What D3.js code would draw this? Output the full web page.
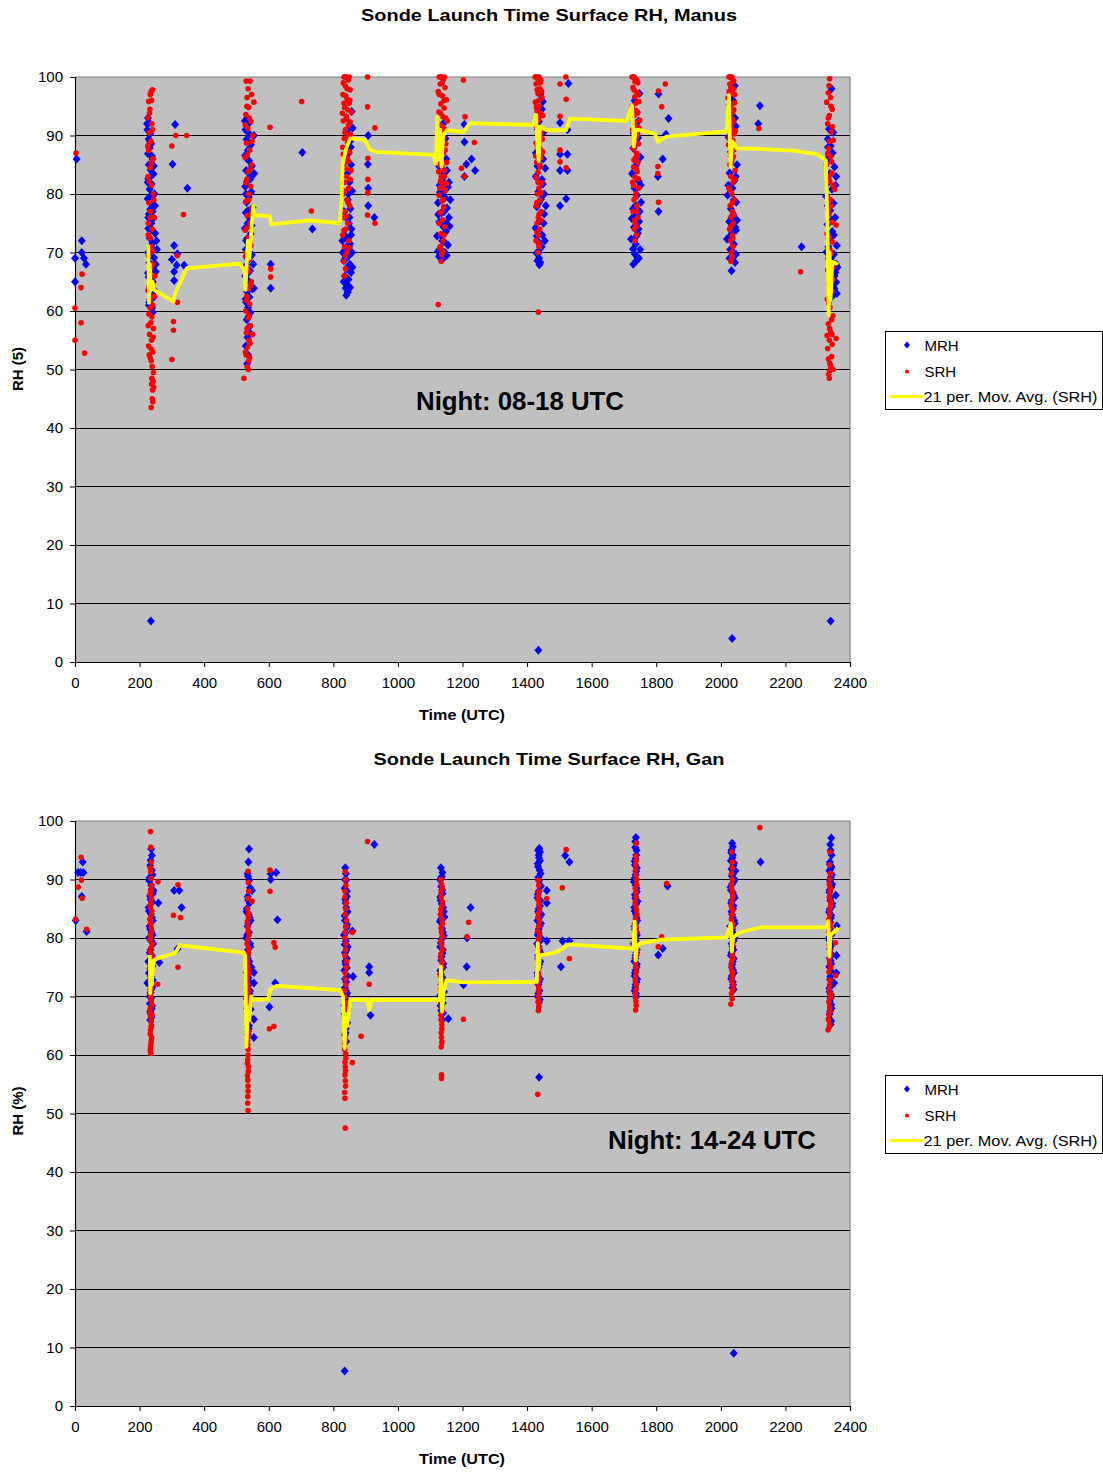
<!DOCTYPE html>
<html>
<head>
<meta charset="utf-8">
<script src="https://cdn.jsdelivr.net/npm/d3@7"></script>
<style>
  html, body { margin: 0; padding: 0; background: #fff; }
  svg { display: block; font-family: "Liberation Sans", Arial, sans-serif; }
</style>
</head>
<body>
<svg id="chart" width="1103" height="1472"></svg>
<script>
// ---------------- DATA ----------------
const xTicks = [0, 200, 400, 600, 800, 1000, 1200, 1400, 1600, 1800, 2000, 2200, 2400];
const yTicks = [0, 10, 20, 30, 40, 50, 60, 70, 80, 90, 100];
const seriesNames = ["MRH", "SRH", "21 per. Mov. Avg. (SRH)"];

// Manus: [time (HHMM UTC), RH]
const manusMRH = [
  [5,86],[0,69],[21,72],[21,70],[28,69],[34,68],[0,65],
  [226,93],[230,92.2],[224,91],[233,90.3],[228,89.4],[236,88.6],[231,87.8],[226,86.9],[240,86],[229,85],[234,84.1],[243,83.4],[227,82.6],[237,81.7],[231,80.8],[246,80],[225,79.2],[239,78.3],[233,77.4],[229,76.6],[242,75.8],[236,75],[227,74.1],[248,73.3],[231,72.5],[240,71.6],[234,70.8],[226,70],[245,69.1],[230,68.3],[237,67.4],[250,66.7],[228,65.8],[241,65],[233,64.1],[236,63.2],[244,62.4],[230,61.5],[239,60.6],[235,7],
  [223,92],[232,89],[238,86.5],[244,84.8],[225,82],[235,79.7],[248,78],[227,76],[239,73.8],[252,72],[231,69.5],[243,67.9],[226,66.5],[237,64.6],[246,63.5],[233,62],[229,61],[241,59.8],[236,71],[229,88],[234,83],[240,77],[254,70.5],[250,68],
  [310,91.9],[302,85.1],[348,81],[307,71.2],[317,69.8],[300,68.8],[315,67.8],[338,67.8],[307,66.7],[307,65.2],
  [533,93],[537,92],[528,91],[541,90.2],[531,89.3],[545,88.4],[535,87.5],[527,86.6],[539,85.7],[548,84.8],[530,84],[543,83.1],[534,82.2],[527,81.3],[546,80.4],[538,79.5],[531,78.6],[550,77.7],[529,76.8],[541,75.9],[535,75],[526,74.1],[544,73.2],[532,72.3],[539,71.4],[529,70.5],[548,69.6],[536,68.7],[531,67.8],[542,66.9],[527,66],[538,65.1],[545,64.2],[533,63.3],[540,62.4],[530,61.5],[536,60.6],[543,59.7],[532,58.5],[538,57.2],[534,55.5],[533,51],
  [526,92.5],[540,88.8],[533,86],[544,82.6],[529,80],[536,77.2],[547,74.6],[530,72],[541,69.2],[534,66.4],[549,63.8],[528,62],[537,59],[541,56.3],[529,54],[536,52.5],[552,68],[555,83.5],[554,63.9],
  [554,90],[606,68],[606,63.9],[704,87.1],[735,74],
  [857,94.1],[860,91.3],[852,89],[848,87],[855,85],[843,83.5],[850,82],[858,80.5],[845,79],[853,77.5],[840,76],[848,75],[856,74],[835,73],[844,72.3],[852,71.5],[839,70.8],[858,70],[846,69.3],[833,68.6],[851,68],[841,67.3],[855,66.6],[836,66],[847,65.4],[843,64.5],[838,63.9],[840,62.7],[849,71],[829,70],
  [845,91],[854,88],[838,85.8],[847,80],[833,77],[855,73],[842,71],[837,69],[848,67],[832,65],[852,64],[845,63.2],[859,67.5],[828,72],[850,76],
  [908,90],[907,85.1],[908,81],[908,78],[927,76],
  [1140,92],[1147,89.5],[1133,87.2],[1150,86],[1127,84.8],[1143,83.6],[1137,82.4],[1155,81.2],[1130,80.3],[1146,79.4],[1124,78.5],[1152,77.6],[1135,76.8],[1158,76],[1128,75.2],[1141,74.4],[1149,73.6],[1121,72.8],[1137,72],[1155,71.3],[1131,70.6],[1146,70],[1127,69.3],[1139,68.9],[1160,74.5],[1162,79],
  [1145,90.8],[1131,88],[1152,84],[1139,80],[1125,76.5],[1150,75],[1133,73],[1144,71.8],[1124,70.2],[1151,69.5],[1134,69.5],[1158,82],[1143,77],[1129,81.5],
  [1206,91.9],[1206,88.9],[1228,86],[1212,85.1],[1239,84],[1206,83],
  [1441,97],[1446,94.5],[1437,92.4],[1452,90.6],[1431,88.8],[1444,87.3],[1438,85.8],[1456,84.4],[1427,83],[1449,81.7],[1435,80.4],[1443,79.1],[1430,77.8],[1453,76.6],[1439,75.4],[1426,74.2],[1447,73],[1434,71.9],[1442,70.8],[1429,69.9],[1437,69],[1432,68.6],[1438,67.9],[1435,2],[1458,78],[1455,72],
  [1449,95.8],[1433,91],[1440,89.5],[1450,86],[1432,84.8],[1446,82.5],[1437,78.5],[1451,75],[1430,72.8],[1445,71],[1436,70],[1441,68.3],[1427,87],[1453,80],
  [1528,98.9],[1502,92.2],[1525,91],[1502,86.8],[1525,86.8],[1502,84],[1525,84],[1502,78],[1521,79.2],
  [1748,97.2],[1740,94],[1735,91.5],[1744,89.6],[1729,87.8],[1751,86.3],[1737,84.9],[1725,83.5],[1746,82.2],[1733,81],[1741,79.8],[1753,78.6],[1728,77.5],[1738,76.4],[1747,75.3],[1731,74.3],[1743,73.3],[1722,72.3],[1736,71.4],[1750,70.5],[1733,69.8],[1741,69.2],[1729,68],
  [1733,96],[1745,92.5],[1730,90.4],[1740,85.5],[1752,81.5],[1736,78],[1724,75.8],[1745,74],[1739,72.8],[1728,70.6],[1746,69],[1737,68.5],[1749,77],
  [1807,97.1],[1838,92.9],[1830,90.2],[1820,86],[1805,83],[1807,77],
  [2043,98.5],[2038,96],[2030,93.7],[2046,91.6],[2024,89.7],[2040,88],[2033,86.4],[2050,85],[2027,83.6],[2043,82.3],[2036,81],[2021,79.8],[2048,78.6],[2031,77.5],[2039,76.4],[2026,75.3],[2045,74.3],[2034,73.3],[2019,72.3],[2041,71.4],[2029,70.5],[2047,69.7],[2035,68.9],[2033,66.9],[2035,4],
  [2035,97],[2027,95.3],[2044,93],[2036,90.5],[2031,87.2],[2046,83],[2023,81.5],[2040,79],[2033,76],[2047,73.8],[2029,72.8],[2038,70],[2044,68.3],[2027,69],[2050,75.5],
  [2121,95.1],[2116,92],[2250,71],
  [2343,98],[2335,91.1],[2331,89.4],[2340,88.2],[2346,87],[2328,85.8],[2352,84.6],[2337,83.5],[2357,83],[2333,82],[2344,80.8],[2326,79.6],[2349,78.4],[2339,77.2],[2354,76],[2330,74.8],[2345,73.6],[2336,72.4],[2359,71.2],[2327,70.1],[2350,69.7],[2341,69],[2357,68],[2334,67],[2352,66],[2357,64.9],[2348,64],[2359,63],[2340,7],
  [2348,90.5],[2338,86.5],[2355,81.5],[2331,78],[2343,75.5],[2350,73],[2333,71],[2346,68.3],[2355,66.6],[2339,65.5],[2352,63.8],[2344,62.5],[2361,67.5],[2332,88]
];

const manusSRH = [
  [3,87],[22,66.3],[19,64],[0,60.5],[19,58],[0,55],[30,52.8],
  [240,97.8],[236,97.5],[228,95.8],[232,94.5],[226,93],[238,92],[230,90.5],[235,89],[228,87.5],[241,86],[233,84.5],[226,83],[237,81.5],[243,80],[229,78.5],[234,77],[245,76],[227,75],[239,74],[232,72.5],[236,71],[228,69.5],[242,68],[231,66.5],[238,65],[226,63.5],[233,62],[240,61],[229,59.5],[235,58],[243,57],[231,56],[237,55],[228,54],[241,53],[233,52],[236,51.5],[238,48.5],[242,48],[244,47],[240,46.5],[239,45],[236,43.5],
  [233,97],[237,96],[231,93.8],[240,91],[226,88.3],[236,85.3],[230,82.2],[244,79],[233,76],[227,73],[241,70.2],[235,67.3],[229,64],[245,62.5],[233,60.5],[238,59],[227,57.5],[242,55.5],[236,53.5],[230,52.5],[239,50.5],[243,49.5],[237,47.5],[241,44.5],[232,62.8],[247,66],
  [312,90],[346,90],[300,88.2],[336,76.5],[317,69.5],[317,61.5],[305,58.2],[305,56.7],[300,51.7],
  [530,99.3],[542,99.3],[533,96.5],[554,95.7],[538,94.8],[529,93.6],[545,92.4],[535,91.2],[550,90],[531,88.7],[541,87.5],[527,86.3],[547,85],[536,83.8],[532,82.5],[544,81.3],[538,80],[529,78.7],[549,77.5],[534,76.3],[541,75],[527,73.8],[537,72.5],[545,71.2],[531,70],[540,68.8],[534,67.5],[528,66.3],[546,65],[537,63.8],[532,62.5],[541,61.2],[529,60],[536,58.8],[543,57.5],[531,56.3],[539,55],[534,53.8],[530,52.5],[538,51.5],[533,50.5],[523,48.5],
  [536,98],[547,97],[532,95],[540,93],[527,91.8],[548,89],[534,86.8],[542,84.2],[529,82],[538,79],[546,76.6],[533,74.2],[541,71.8],[528,69.3],[538,66.8],[544,64.4],[531,61.8],[539,59.3],[533,57],[542,54.5],[528,53],[537,50],[541,52],[550,56],
  [604,91.4],[606,67.2],[606,65.8],[702,95.8],[732,77.1],
  [833,100],[840,100],[846,99.5],[837,98.5],[852,97.8],[830,97],[843,96.2],[849,95.5],[835,94.8],[856,94],[840,93.3],[831,92.5],[847,91.8],[838,91],[853,90.2],[834,89.5],[844,88.7],[829,88],[850,87.2],[839,86.4],[846,85.6],[833,84.8],[855,84],[841,83],[836,82],[848,81],[830,80],[843,79],[851,78],[837,77],[832,76],[845,75],[839,74],[829,73],[848,72],[835,71],[842,70],[832,68.5],[838,67.2],[834,66],
  [836,100],[849,100],[831,99],[843,98],[838,96.8],[851,96],[833,95.5],[845,94.4],[828,93.8],[841,92.8],[852,92.3],[836,90.5],[848,89.8],[831,86.8],[844,86],[840,84.3],[852,82.5],[835,80.5],[846,78.5],[840,76.2],[833,73.8],[849,70.8],[837,69.5],
  [906,100],[906,94.9],[929,91.3],[907,86.1],[907,82.5],[907,80.2],[906,76.4],[929,75],
  [1128,100],[1135,100],[1141,99.6],[1131,98.8],[1146,98.2],[1125,97.5],[1138,96.8],[1150,96.1],[1133,95.4],[1143,94.7],[1127,94],[1140,93.2],[1153,92.5],[1130,91.8],[1145,91],[1136,90.2],[1124,89.4],[1148,88.6],[1134,87.8],[1141,87],[1129,86.2],[1151,85.4],[1137,84.6],[1126,83.8],[1144,83],[1132,82.2],[1139,81.4],[1147,80.6],[1128,79.8],[1136,78.8],[1142,77.8],[1131,76.8],[1138,75.6],[1145,74.4],[1133,73.2],[1140,72],[1129,70.8],[1136,69.6],[1134,68.5],[1125,61.1],
  [1131,100],[1144,100],[1137,99],[1128,97],[1143,96],[1132,93.8],[1148,93],[1138,91.5],[1126,91],[1142,89.6],[1131,88.4],[1146,87.5],[1135,86.5],[1127,85],[1143,84],[1134,83],[1150,81.8],[1130,81],[1141,79],[1135,77],[1127,75],[1143,73],[1132,71],[1138,70.2],
  [1203,99.5],[1208,93.2],[1237,88.8],[1197,84.4],[1206,83],
  [1425,100],[1431,100],[1437,100],[1443,99.5],[1428,98.8],[1440,98],[1434,97.2],[1446,96.5],[1426,95.7],[1438,95],[1431,94.2],[1449,93.4],[1435,92.6],[1427,91.8],[1442,91],[1433,90.2],[1447,89.4],[1429,88.6],[1439,87.8],[1436,87],[1444,86.2],[1430,85.4],[1441,84.6],[1434,83.7],[1427,82.8],[1445,81.9],[1437,81],[1432,80],[1440,79],[1429,78],[1443,77],[1435,76],[1431,75],[1439,74],[1434,73],[1428,72],[1437,71],[1433,70],[1435,59.8],
  [1428,100],[1434,99.3],[1441,99],[1431,97.8],[1445,97.5],[1437,96],[1429,94.8],[1442,93.8],[1436,93],[1430,91.4],[1445,90.5],[1438,89],[1433,88],[1448,87.2],[1427,86.5],[1439,85],[1434,82],[1443,80.2],[1430,78.5],[1437,76.5],[1442,75.5],[1431,73.5],[1436,71.5],
  [1520,100],[1502,98.8],[1521,96.2],[1502,93.3],[1502,87.5],[1502,85.5],[1521,84.5],
  [1725,100],[1731,100],[1737,99.6],[1743,99],[1728,98.2],[1740,97.4],[1734,96.6],[1746,95.8],[1726,95],[1738,94.2],[1732,93.4],[1749,92.6],[1735,91.8],[1727,91],[1742,90.2],[1733,89.4],[1745,88.6],[1729,87.8],[1739,87],[1736,86.2],[1743,85.4],[1730,84.6],[1741,83.8],[1734,82.9],[1727,82],[1745,81],[1737,80],[1731,79],[1740,78],[1728,77],[1743,76],[1735,75],[1732,74],[1739,73],[1734,72],
  [1728,100],[1734,99.2],[1740,99.5],[1731,97.8],[1744,97],[1737,95.5],[1729,94.4],[1742,93.8],[1735,92.2],[1746,91.3],[1730,90.6],[1739,89.8],[1734,88.2],[1742,86.6],[1731,85.8],[1738,84.3],[1744,82.6],[1730,81.5],[1736,79.5],[1741,77],[1733,75.5],[1738,74.5],
  [1828,98.8],[1807,97.6],[1817,94.9],[1805,84.7],[1805,83.5],[1807,78.6],
  [2025,100],[2031,100],[2037,99.5],[2028,98.8],[2040,98],[2034,97.2],[2022,96.4],[2043,95.6],[2030,94.8],[2036,94],[2026,93.2],[2039,92.4],[2033,91.6],[2045,90.8],[2029,90],[2037,89.2],[2024,88.4],[2041,87.6],[2032,86.8],[2035,86],[2028,85],[2044,84],[2031,83],[2038,82],[2025,81],[2034,80],[2041,79],[2029,78],[2036,77],[2032,76],[2039,75],[2027,74],[2035,73],[2030,72],[2037,71],[2033,70],[2031,68.5],[2034,69.5],
  [2028,100],[2034,100],[2040,99.3],[2031,98.3],[2037,97.8],[2026,97.5],[2043,97],[2033,95.3],[2040,94.4],[2028,93.6],[2036,92.8],[2031,91],[2041,90.3],[2026,89.6],[2035,88.8],[2030,87.2],[2039,86.4],[2033,85.5],[2042,82.5],[2029,80.5],[2036,78.5],[2040,76.5],[2031,74.5],[2037,72.5],[2033,69],
  [2118,91.2],[2247,66.7],
  [2337,99.7],[2333,97.3],[2340,96.5],[2328,95.7],[2345,94.5],[2336,93.4],[2331,92],[2342,90.6],[2348,89.2],[2334,87.8],[2339,86.4],[2327,85],[2344,83.6],[2337,82.2],[2352,80.8],[2331,79.4],[2341,78],[2335,76.6],[2357,74.7],[2329,73.2],[2346,71.8],[2338,70.4],[2332,69],[2349,67.6],[2340,66.2],[2335,64.8],[2344,63.4],[2330,62],[2338,60.6],[2347,59.2],[2333,57.8],[2340,56.4],[2357,55.3],[2336,55],[2331,53.6],[2343,52.2],[2338,51],[2348,50],[2334,49.2],[2336,48.5],
  [2335,98.5],[2341,95],[2333,93],[2346,91.5],[2337,89],[2331,86.9],[2343,85.5],[2335,83],[2348,81.5],[2339,79],[2333,77.4],[2344,75.2],[2336,72.6],[2342,69.8],[2331,67],[2347,65.4],[2337,63.8],[2334,61.3],[2343,58.5],[2337,57],[2329,55.8],[2345,54.3],[2333,51.8],[2340,50.5],[2337,49.8],[2344,56]
];

const manusMA = [
  [227,71.3],[229,61.4],[232,68],[234,63.5],[240,65],[245,63.6],[305,61.6],[310,63],[346,67.3],[511,68.1],[525,67],[528,63.6],[535,72],[540,69],[552,78.1],[555,76.4],[604,76.2],[607,74.8],[728,75.5],[821,75],[826,80],[829,85.2],[840,87.8],[852,89.5],[898,89.2],[914,87.6],[930,87.2],[1110,86.7],[1118,85.2],[1122,93.2],[1127,86],[1131,91],[1135,84.7],[1140,90],[1151,90.9],[1203,90.6],[1223,92.1],[1419,91.8],[1428,93.5],[1432,88],[1436,85.6],[1440,91.5],[1461,90.9],[1521,90.9],[1533,92.9],[1708,92.5],[1725,95.1],[1731,88.1],[1736,91],[1750,90.9],[1796,90.3],[1805,88.9],[1832,89.8],[2018,90.7],[2025,96.9],[2030,84.7],[2035,89],[2049,87.8],[2121,87.7],[2225,87.4],[2297,86.8],[2325,85.8],[2330,75],[2334,59.3],[2337,70],[2340,62],[2345,68.4],[2359,68.1],[2362,68.3]
];

// Gan
const ganMRH = [
  [24,93],[10,91.2],[18,91.2],[26,91.2],[21,87.1],[2,83],[36,81.1],
  [236,95.2],[238,94.1],[233,92.4],[240,90.8],[230,89.8],[236,89],[243,88.1],[232,87.2],[239,86.1],[228,85.2],[235,84.1],[241,83],[231,82],[237,81],[229,80],[242,79],[234,78],[238,77],[227,76],[240,75.2],[233,74.3],[236,73.4],[230,72.6],[239,71.6],[234,70.7],[237,69.8],[232,68.8],[238,67.9],[235,67],[233,66],
  [234,93.3],[238,91.6],[231,90.3],[241,87.6],[234,86.6],[229,84.6],[238,83.5],[233,81.5],[240,80.5],[236,79.5],[231,77.5],[238,76.5],[234,75.7],[229,74],[241,72.8],[236,71.2],[231,70],[239,68.4],[233,67.4],[237,66.5],
  [258,86],[261,75.8],[224,72.3],[307,88.1],[323,88.1],[330,85.2],[317,78.1],
  [539,95.2],[536,90.5],[540,89.9],[548,88.1],[535,87.1],[541,86],[532,85],[538,84],[544,83],[534,82],[539,81],[530,80],[542,79],[536,78],[533,77],[540,76],[546,75],[531,74.1],[554,74.1],[537,73.2],[543,72.3],[554,72.3],[534,71.4],[540,70.5],[532,69.6],[538,68.7],[544,67.8],[535,66.9],[554,66.1],[539,65],[536,64],[554,63],
  [537,93],[534,91],[542,88.6],[536,86.5],[531,84.5],[541,83.5],[537,82.5],[533,80.5],[543,78.5],[535,76.5],[539,74.6],[534,72.8],[542,71],[537,69],[533,68],[541,66.4],[538,64.5],[535,63.5],
  [606,91],[623,91.2],[606,90],[627,83.1],[620,72.3],[602,68.2],
  [837,92],[840,89.9],[835,88.5],[842,87.1],[838,86],[844,84.5],[836,83],[841,81.8],[859,81.2],[833,80.5],[839,79.5],[845,78.5],[836,77.5],[842,76.5],[838,75.5],[834,74.5],[844,73.5],[861,73.4],[840,72.5],[836,71.5],[843,70.5],[838,69.5],[834,68.5],[841,67.5],[837,66.5],[843,65.5],[839,64.5],[836,63.4],[840,62.3],[835,6],
  [839,91],[836,90],[842,88],[837,86.6],[840,85.2],[835,83.8],[843,82.3],[838,80.9],[835,78.9],[841,77.9],[837,76],[842,74.9],[836,73],[839,71],[844,69],[835,67],[840,66],[838,63.8],
  [927,96],[911,75.1],[911,74.1],[915,66.8],
  [1133,92],[1136,90.5],[1131,89.9],[1134,88.8],[1138,87.6],[1132,86.4],[1140,85.2],[1135,84],[1144,83.6],[1130,82.8],[1137,81.6],[1142,80.4],[1133,79.2],[1139,78],[1135,76.8],[1141,75.6],[1131,74.4],[1138,73.2],[1134,72],[1143,70.8],[1136,69.6],[1132,68.4],[1140,67.2],[1156,66.2],[1137,66],
  [1138,91.2],[1133,90.2],[1137,88.2],[1131,87],[1136,85.8],[1142,84.5],[1133,83.2],[1139,81],[1135,79.8],[1131,78.5],[1138,77.4],[1134,76.2],[1140,75],[1133,73.8],[1137,72.6],[1135,71.4],[1131,70.2],[1139,68.9],[1134,67.6],
  [1225,85.2],[1214,80],[1213,75.1],[1203,72],
  [1438,95.3],[1436,94.2],[1440,93.2],[1434,92.2],[1442,91],[1437,89.8],[1461,88.1],[1433,87.5],[1441,86.4],[1461,86],[1436,85],[1444,84],[1432,83],[1439,82],[1435,81],[1443,80],[1461,79.5],[1431,79],[1438,78],[1434,77],[1441,76],[1436,75],[1432,74],[1440,73],[1435,72],[1438,71],[1433,70],[1437,69],[1437,56.2],
  [1434,95],[1440,94.7],[1437,93.7],[1433,92.7],[1439,91.6],[1435,90.4],[1443,88.9],[1436,88],[1432,86.9],[1440,85.5],[1434,84.5],[1438,83.5],[1443,82.5],[1436,81.5],[1433,80.5],[1440,79.5],[1436,78.5],[1442,77.5],[1434,76.5],[1438,75.5],[1433,73.5],[1437,72.5],[1435,70.5],[1439,69.5],
  [1518,94.1],[1531,93],[1505,75.1],[1510,79.5],[1531,79.5],
  [1737,97.2],[1735,95.5],[1738,94.2],[1733,93.1],[1740,92],[1736,90.8],[1731,89.6],[1739,88.5],[1734,87.4],[1742,86.3],[1732,85.2],[1737,84.1],[1741,83],[1733,82],[1738,81],[1735,80],[1730,79],[1740,78],[1736,77],[1732,76],[1739,75],[1734,74],[1741,73],[1736,72],[1733,71],[1738,70],
  [1735,96.5],[1739,95],[1736,93.6],[1734,92.5],[1738,91.4],[1733,90.2],[1737,89],[1740,87.9],[1735,86.8],[1738,85.8],[1733,84.6],[1739,83.5],[1736,82.5],[1734,81.5],[1740,80.5],[1737,79.5],[1733,78.5],[1738,77.5],[1735,76.5],[1740,75.5],[1736,74.5],[1733,73.5],[1739,72.5],[1735,71.5],[1737,70.5],
  [1835,88.9],[1820,78.2],[1806,77.1],
  [2035,96.2],[2033,95],[2037,94.2],[2031,93.2],[2039,92.4],[2045,91.5],[2034,90.6],[2040,89.6],[2030,88.7],[2037,87.8],[2043,86.9],[2032,86],[2038,85],[2035,84],[2041,83],[2029,82],[2036,81],[2042,80],[2033,79],[2039,78],[2031,77],[2037,76],[2034,75],[2040,74],[2032,73],[2038,72],[2040,71.2],[2040,9],
  [2037,95.6],[2032,94.6],[2036,93.7],[2041,92.8],[2033,91.8],[2038,91],[2043,90],[2035,89.2],[2031,88.2],[2040,87.3],[2034,86.4],[2039,85.5],[2033,84.5],[2037,83.5],[2043,82.5],[2035,81.5],[2031,80.5],[2039,79.5],[2036,78.5],[2033,77.5],[2040,76.5],[2035,75.5],[2038,74.5],[2034,73.5],[2037,72.5],[2036,71.5],
  [2123,93],
  [2342,97.1],[2340,95],[2338,93],[2343,92.2],[2336,91.5],[2341,90.4],[2345,89.2],[2337,88.2],[2356,87.3],[2339,86.4],[2344,85.4],[2335,84.4],[2341,83.4],[2359,82.1],[2338,81.6],[2343,80.6],[2336,79.6],[2340,78.6],[2358,77],[2337,76.6],[2342,75.6],[2358,74],[2339,73.4],[2351,72.3],[2336,71.4],[2341,70.3],[2338,69.2],[2343,68],[2337,67],[2340,65.2],[2342,65.8],
  [2339,96],[2343,94.2],[2337,92.6],[2340,91.8],[2344,90.8],[2338,89.8],[2342,88.7],[2336,87.8],[2340,86.9],[2345,85.9],[2337,84.9],[2342,83.9],[2339,82.7],[2336,80.1],[2341,79.1],[2338,78.1],[2343,77.2],[2340,76.1],[2336,75.1],[2341,74.4],[2338,72.9],[2343,71.9],[2337,70.8],[2340,69.7],[2342,68.6],[2338,67.5],[2336,66.2]
];

const ganSRH = [
  [19,93.8],[20,89.9],[10,88.7],[22,86.8],[2,83.2],[36,81.5],
  [234,98.2],[236,93],[234,91.3],[237,89],[233,87.5],[235,86],[238,84.6],[232,83.2],[236,81.8],[234,80.4],[239,79],[233,77.6],[236,76.2],[231,74.8],[235,73.4],[238,72],[233,70.6],[236,69.2],[232,67.8],[235,66.4],[237,65],[233,63.6],[236,62.4],[234,61.3],[235,60.3],
  [235,95.5],[233,92],[236,90.2],[234,88.2],[237,86.8],[233,85.3],[236,83.9],[234,82.5],[237,81.1],[232,79.7],[235,78.3],[238,76.9],[234,75.5],[237,74.1],[233,72.7],[236,71.3],[234,69.9],[238,68.5],[233,67.1],[236,65.7],[234,64.3],[237,63],[235,61.8],[233,60.8],[236,64.8],[238,66.8],
  [257,89.6],[256,72.1],[319,89.1],[305,83.9],[327,83.5],[319,75],
  [536,91.4],[538,88],[548,86.3],[534,85],[537,83.5],[535,82],[539,80.5],[533,79],[537,77.5],[535,76],[538,74.5],[534,73],[536,71.5],[539,70],[533,68.5],[537,67],[535,65.5],[538,64],[534,62.5],[536,61],[535,59.2],[537,58],[534,56.5],[536,54.7],[535,52.9],[536,50.5],
  [537,89.5],[535,86.8],[538,84.2],[534,82.8],[537,81.2],[535,79.7],[538,78.2],[534,76.8],[536,75.3],[539,73.8],[535,72.2],[537,70.8],[534,69.3],[538,67.8],[536,66.2],[534,64.8],[537,63.2],[535,61.8],[536,60],[534,58.6],[537,57.2],[535,55.7],[536,53.8],[535,51.8],
  [604,91.6],[604,88],[616,79.2],[620,78.4],[602,64.5],[616,64.9],
  [837,91.3],[839,89],[836,87],[838,85],[841,83],[837,81],[859,81],[839,79],[836,77],[840,75],[838,73],[835,71],[839,69],[837,67],[840,65.5],[836,64],[838,62.5],[835,61],[839,59.5],[837,58],[859,58.7],[836,56.6],[838,54.7],[836,52.6],[837,47.5],
  [838,90],[836,88],[840,86],[837,84],[839,82],[836,80],[838,78],[841,76],[837,74],[839,72],[836,70],[838,68],[836,66],[839,64.8],[837,63.2],[835,62],[838,60.2],[836,58.8],[838,57.3],[837,55.6],[835,53.6],
  [906,96.5],[911,72.1],[886,63.2],
  [1133,90],[1137,88.5],[1134,87],[1136,85.5],[1132,84],[1138,82.5],[1135,81],[1133,79.5],[1137,78],[1134,76.5],[1136,75],[1132,73.5],[1138,72],[1135,70.5],[1133,69],[1137,67.5],[1134,66],[1136,64.5],[1135,63],[1134,61.4],[1135,56.6],[1135,56],
  [1135,89.2],[1134,87.8],[1137,86.2],[1133,84.8],[1136,83.2],[1134,81.8],[1137,80.2],[1135,78.8],[1133,77.2],[1137,75.8],[1134,74.2],[1136,72.8],[1133,71.2],[1137,69.8],[1135,68.2],[1133,66.8],[1136,65.2],[1134,63.8],[1136,62.2],
  [1219,82.7],[1214,80.2],[1203,66.1],
  [1435,89.9],[1437,88],[1434,86.5],[1461,86.7],[1438,85],[1433,83.5],[1436,82],[1439,80.5],[1434,79],[1437,77.5],[1435,76],[1433,74.5],[1438,73],[1436,71.5],[1434,70],[1437,68.8],[1435,67.6],[1433,53.3],
  [1436,89],[1434,87.2],[1437,85.8],[1435,84.2],[1438,82.8],[1434,81.2],[1436,79.8],[1438,78.2],[1434,76.8],[1437,75.2],[1435,73.8],[1433,72.2],[1437,70.8],[1435,69.2],[1436,68.2],
  [1521,95.1],[1509,88.6],[1531,76.5],
  [1738,96.2],[1737,92.5],[1736,91.7],[1739,90],[1735,88.5],[1738,87],[1736,85.5],[1740,84],[1735,82.5],[1738,81],[1736,79.5],[1739,78],[1735,76.5],[1737,75],[1736,73.5],[1738,72],[1735,70.5],[1737,69.2],[1736,67.7],
  [1737,94],[1738,93.2],[1736,90.8],[1739,89.2],[1737,87.8],[1735,86.2],[1739,84.8],[1736,83.2],[1738,81.8],[1735,80.2],[1737,78.8],[1739,77.2],[1736,75.8],[1738,74.2],[1735,72.8],[1737,71.2],[1736,69.8],[1738,68.5],
  [1832,89.3],[1817,80.2],[1806,78.5],
  [2034,94.7],[2036,90],[2033,88.5],[2037,87],[2032,85.5],[2035,84],[2038,82.5],[2033,81],[2036,79.5],[2034,78],[2037,76.5],[2032,75],[2035,73.5],[2038,72],[2033,70.5],[2031,68.7],
  [2035,92],[2033,89.2],[2036,87.8],[2034,86.2],[2037,84.8],[2033,83.2],[2036,81.8],[2034,80.2],[2037,78.8],[2035,77.2],[2033,75.8],[2036,74.2],[2034,72.8],[2037,71.2],[2035,69.6],[2033,91],[2036,93],
  [2121,98.9],
  [2338,94.7],[2337,90],[2339,88.5],[2336,87],[2340,85.5],[2337,84],[2339,82.5],[2335,81],[2355,79.2],[2338,78],[2336,76.5],[2340,75],[2356,73.6],[2337,72],[2339,70.5],[2335,69],[2338,67.5],[2334,66],[2332,64.3],
  [2337,92.5],[2339,91],[2336,89.2],[2338,87.8],[2340,86.2],[2337,84.8],[2335,83.2],[2339,81.8],[2337,80.2],[2336,78.8],[2339,77.2],[2337,75.8],[2335,74.2],[2338,72.8],[2336,71.2],[2339,69.8],[2337,68.2],[2335,66.8],[2338,65.2],[2336,64.8]
];

const ganMA = [
  [232,77.1],[233,70.5],[236,74],[238,72],[243,76.2],[260,76.6],[310,77.4],[325,78.8],[335,78.7],[521,77.5],[527,77],[531,61.4],[535,68],[540,66],[545,70],[552,69.4],[599,69.5],[605,71.2],[624,71.8],[821,71.1],[830,70],[835,61.1],[838,67],[843,65],[852,69.4],[905,69.4],[911,67.7],[918,69.4],[1130,69.4],[1133,75.1],[1137,67.4],[1142,71],[1151,72.8],[1203,72.4],[1430,72.5],[1433,79.1],[1436,74.7],[1440,77],[1445,77.1],[1481,77.4],[1512,78.2],[1528,78.9],[1729,78.2],[1733,82.8],[1736,76.2],[1740,78.5],[1750,79.1],[1812,79.7],[2018,80.1],[2031,82.5],[2034,77.7],[2038,80],[2055,80.9],[2121,81.8],[2328,81.8],[2333,82.9],[2336,76.8],[2340,80.5],[2359,81.4],[2363,81.8]
];

// ---------------- DRAW ----------------
const svg = d3.select("#chart");
const FONT = '"Liberation Sans", Arial, sans-serif';
const diamond = (w, h) => `M0,${-h/2}L${w/2},0L0,${h/2}L${-w/2},0Z`;

function drawChart(cfg) {
  const g = svg.append("g");
  const x = d3.scaleLinear().domain([0, 2400]).range([75, 850]);
  const y = d3.scaleLinear().domain([0, 100]).range([cfg.bottom, cfg.top]);

  g.append("text").attr("x", 549).attr("y", cfg.titleY).attr("text-anchor", "middle")
    .attr("font-size", 17).attr("font-weight", "bold").attr("font-family", FONT)
    .attr("textLength", cfg.titleLen).attr("lengthAdjust", "spacingAndGlyphs")
    .text(cfg.title);

  g.append("rect").attr("x", x(0)).attr("y", y(100)).attr("width", x(2400) - x(0))
    .attr("height", y(0) - y(100)).attr("fill", "#C0C0C0");

  g.append("g").selectAll("line").data(yTicks.filter(d => d > 0 && d < 100)).join("line")
    .attr("x1", x(0)).attr("x2", x(2400)).attr("y1", d => y(d)).attr("y2", d => y(d))
    .attr("stroke", "#000").attr("stroke-width", 1).attr("shape-rendering", "crispEdges");

  g.append("path").attr("d", `M${x(0)},${y(100)}H${x(2400)}V${y(0)}`)
    .attr("fill", "none").attr("stroke", "#808080").attr("stroke-width", 1.2);

  const yAxis = d3.axisLeft(y).tickValues(yTicks).tickSize(5).tickPadding(7).tickFormat(d3.format("d"));
  const ya = g.append("g").attr("transform", `translate(${x(0)},0)`).call(yAxis);
  const xAxis = d3.axisBottom(x).tickValues(xTicks).tickSize(5).tickPadding(10).tickFormat(d3.format("d"));
  const xa = g.append("g").attr("transform", `translate(0,${y(0)})`).call(xAxis);
  [ya, xa].forEach(a => {
    a.select(".domain").attr("stroke", "#000").attr("stroke-width", 1.2);
    a.selectAll(".tick line").attr("stroke", "#000");
    a.selectAll(".tick text").attr("font-size", 15).attr("font-family", FONT).attr("fill", "#000");
  });

  g.append("text").attr("x", 462).attr("y", cfg.bottom + 58).attr("text-anchor", "middle")
    .attr("font-size", 15).attr("font-weight", "bold").attr("font-family", FONT)
    .attr("textLength", 86).attr("lengthAdjust", "spacingAndGlyphs").text("Time (UTC)");
  g.append("text").attr("transform", `translate(23,${cfg.yLabelY}) rotate(-90)`).attr("text-anchor", "middle")
    .attr("font-size", 15).attr("font-weight", "bold").attr("font-family", FONT)
    .text(cfg.yLabel);

  g.append("g").selectAll("path").data(cfg.mrh).join("path")
    .attr("d", diamond(8, 9)).attr("fill", "#0000FF")
    .attr("transform", d => `translate(${x(d[0])},${y(d[1])})`);
  g.append("g").selectAll("circle").data(cfg.srh).join("circle")
    .attr("cx", d => x(d[0])).attr("cy", d => y(d[1])).attr("r", 2.8).attr("fill", "#FF0000");
  g.append("path").datum(cfg.ma)
    .attr("d", d3.line().x(d => x(d[0])).y(d => y(d[1])))
    .attr("fill", "none").attr("stroke", "#FFFF00").attr("stroke-width", 3.8)
    .attr("stroke-linejoin", "round");

  g.append("text").attr("x", cfg.noteX).attr("y", cfg.noteY).attr("text-anchor", "middle")
    .attr("font-size", 26).attr("font-weight", "bold").attr("font-family", FONT)
    .attr("textLength", 208).attr("lengthAdjust", "spacingAndGlyphs").text(cfg.note);

  const L = g.append("g").attr("transform", `translate(885,${cfg.legendTop})`);
  L.append("rect").attr("x", 0.5).attr("y", 0.5).attr("width", 217).attr("height", 78)
    .attr("fill", "#fff").attr("stroke", "#000").attr("stroke-width", 1);
  L.append("path").attr("d", diamond(6, 7)).attr("fill", "#0000FF").attr("transform", "translate(22,14)");
  L.append("circle").attr("cx", 22).attr("cy", 40.5).attr("r", 2).attr("fill", "#FF0000");
  L.append("line").attr("x1", 5).attr("x2", 38).attr("y1", 65.5).attr("y2", 65.5)
    .attr("stroke", "#FFFF00").attr("stroke-width", 3);
  const lt = [[seriesNames[0], 19.5, null], [seriesNames[1], 45.5, null], [seriesNames[2], 71, 174]];
  lt.forEach(([t, yy, len], i) => {
    const tx = L.append("text").attr("x", i === 2 ? 38.5 : 39.5).attr("y", yy)
      .attr("font-size", 15).attr("font-family", FONT).text(t);
    if (len) tx.attr("textLength", len).attr("lengthAdjust", "spacingAndGlyphs");
  });
}

drawChart({
  title: "Sonde Launch Time Surface RH, Manus", titleY: 21, titleLen: 376,
  top: 77, bottom: 662, yLabel: "RH (5)", yLabelY: 369,
  mrh: manusMRH, srh: manusSRH, ma: manusMA,
  note: "Night: 08-18 UTC", noteX: 520, noteY: 410, legendTop: 331
});
drawChart({
  title: "Sonde Launch Time Surface RH, Gan", titleY: 765, titleLen: 351,
  top: 821, bottom: 1406, yLabel: "RH (%)", yLabelY: 1111,
  mrh: ganMRH, srh: ganSRH, ma: ganMA,
  note: "Night: 14-24 UTC", noteX: 712, noteY: 1149, legendTop: 1075
});
</script>
</body>
</html>
